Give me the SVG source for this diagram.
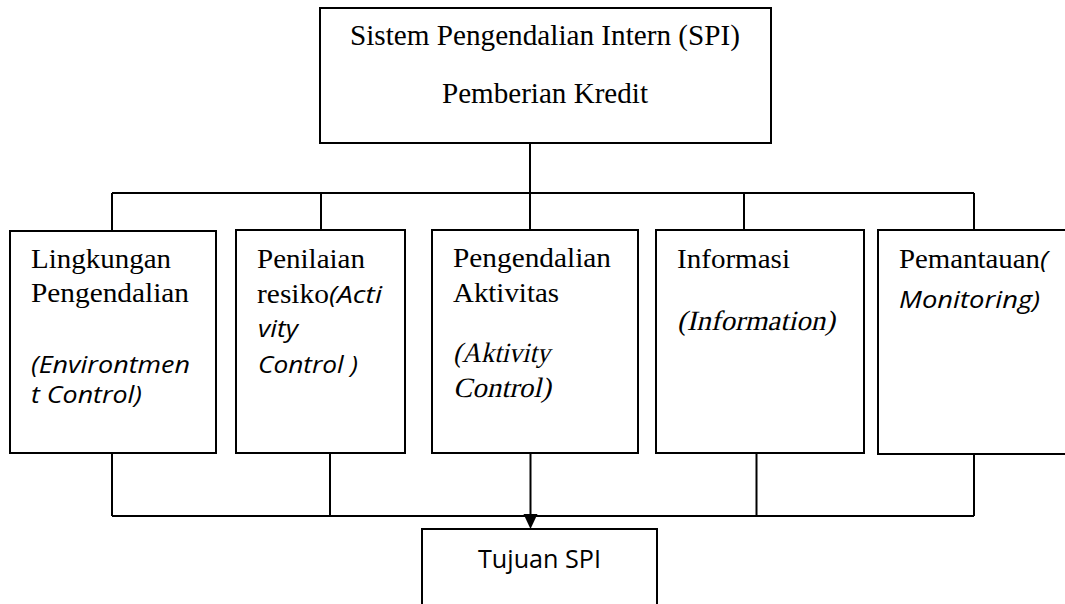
<svg xmlns="http://www.w3.org/2000/svg" width="1065" height="604" viewBox="0 0 1065 604">
  <style>
    .box { fill: #ffffff; stroke: #000000; stroke-width: 2; }
    .wire { fill: none; stroke: #000000; stroke-width: 2; }
    .serif { font-family: "Liberation Serif", "Times New Roman", Times, serif; font-size: 28px; fill: #000000; }
    .sans-i { font-family: "Open Sans", "Noto Sans", sans-serif; font-size: 23px; font-style: italic; fill: #000000; }
    .sans { font-family: "Open Sans", "Noto Sans", sans-serif; font-size: 25px; fill: #000000; }
    .title { font-family: "Liberation Serif", "Times New Roman", Times, serif; font-size: 29px; fill: #000000; }
  </style>

  <rect width="1065" height="604" fill="#ffffff"/>

  <!-- connectors -->
  <g id="connectors">
    <path class="wire" d="M530 143 V193"/>
    <path class="wire" d="M112 193 H974"/>
    <path class="wire" d="M112 193 V231 M321 193 V230 M530 193 V230 M744 193 V230 M974 193 V230"/>
    <path class="wire" d="M112 453 V516 M330 453 V516 M756.5 453 V516 M974 454 V516"/>
    <path class="wire" d="M112 516 H974"/>
    <path class="wire" d="M530.5 453 V515" stroke-width="2.5"/>
    <polygon points="523.5,514 537.5,514 530.5,529" fill="#000000"/>
  </g>

  <!-- top node -->
  <g id="node-spi">
    <rect class="box" x="320" y="8" width="451" height="135"/>
    <text class="title" x="350" y="45" textLength="390" lengthAdjust="spacingAndGlyphs">Sistem Pengendalian Intern (SPI)</text>
    <text class="title" x="442" y="103" textLength="206" lengthAdjust="spacingAndGlyphs">Pemberian Kredit</text>
  </g>

  <g id="node-lingkungan">
    <rect class="box" x="10" y="231" width="206" height="222"/>
    <text class="serif" x="31" y="268" textLength="140" lengthAdjust="spacingAndGlyphs">Lingkungan</text>
    <text class="serif" x="31" y="302" textLength="158" lengthAdjust="spacingAndGlyphs">Pengendalian</text>
    <text class="sans-i" x="31" y="373" textLength="159" lengthAdjust="spacingAndGlyphs">(Environtmen</text>
    <text class="sans-i" x="31" y="403" textLength="111" lengthAdjust="spacingAndGlyphs">t Control)</text>
  </g>

  <g id="node-penilaian">
    <rect class="box" x="236" y="230" width="169" height="223"/>
    <text class="serif" x="257" y="268" textLength="108" lengthAdjust="spacingAndGlyphs">Penilaian</text>
    <text x="257" y="303"><tspan class="serif" textLength="72" lengthAdjust="spacingAndGlyphs">resiko</tspan><tspan class="sans-i" textLength="53" lengthAdjust="spacingAndGlyphs">(Acti</tspan></text>
    <text class="sans-i" x="258" y="337" textLength="40" lengthAdjust="spacingAndGlyphs">vity</text>
    <text class="sans-i" x="258" y="373" textLength="100" lengthAdjust="spacingAndGlyphs">Control )</text>
  </g>

  <g id="node-aktivitas">
    <rect class="box" x="432" y="230" width="206" height="223"/>
    <text class="serif" x="453" y="267" textLength="158" lengthAdjust="spacingAndGlyphs">Pengendalian</text>
    <text class="serif" x="453" y="302" textLength="106" lengthAdjust="spacingAndGlyphs">Aktivitas</text>
    <!-- oblique serif lines: regular face slanted -->
    <text class="serif" transform="translate(453 362) skewX(-13)" textLength="97" lengthAdjust="spacingAndGlyphs">(Aktivity</text>
    <text class="serif" transform="translate(453 397) skewX(-13)" textLength="98" lengthAdjust="spacingAndGlyphs">Control)</text>
  </g>

  <g id="node-informasi">
    <rect class="box" x="656" y="230" width="208" height="223"/>
    <text class="serif" x="677" y="268" textLength="113" lengthAdjust="spacingAndGlyphs">Informasi</text>
    <text class="serif" transform="translate(677 330) skewX(-13)" textLength="158" lengthAdjust="spacingAndGlyphs">(Information)</text>
  </g>

  <g id="node-pemantauan">
    <rect class="box" x="878" y="230" width="200" height="224"/>
    <text x="899" y="268"><tspan class="serif" textLength="141" lengthAdjust="spacingAndGlyphs">Pemantauan</tspan><tspan class="sans-i" textLength="8" lengthAdjust="spacingAndGlyphs">(</tspan></text>
    <text class="sans-i" x="899" y="308" textLength="141" lengthAdjust="spacingAndGlyphs">Monitoring)</text>
  </g>

  <g id="node-tujuan">
    <rect class="box" x="422" y="529" width="235" height="100"/>
    <text class="sans" x="478" y="568" textLength="123" lengthAdjust="spacingAndGlyphs">Tujuan SPI</text>
  </g>
</svg>
